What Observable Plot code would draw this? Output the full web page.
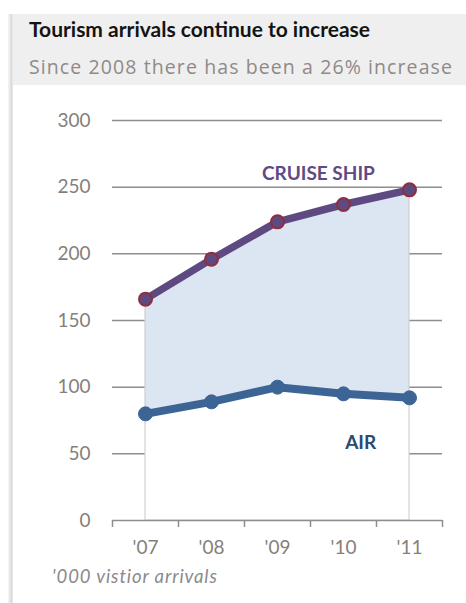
<!DOCTYPE html>
<html>
<head>
<meta charset="utf-8">
<script src="https://cdn.jsdelivr.net/npm/d3@7"></script>
<script src="https://cdn.jsdelivr.net/npm/@observablehq/plot@0.6"></script>
<style>
  html, body { margin: 0; padding: 0; background: #fff; }
  #frame { position: relative; width: 466px; height: 603px; overflow: hidden; font-family: Lato, "Open Sans", sans-serif; }
  #header { position: absolute; left: 8px; top: 14px; width: 458px; height: 71px; background: #efefef; }
  #edge { position: absolute; left: 8px; top: 14px; width: 5px; bottom: 0; background: linear-gradient(to right, #f6f6f6, #e2e2e2 55%, #d6d6d6 75%, #f3f3f3); }
  #title { position: absolute; left: 29px; top: 16px; font-weight: 700; font-size: 21px; line-height: 25px; color: #141414; white-space: nowrap; }
  #subtitle { position: absolute; left: 29px; top: 53px; font-family: "Open Sans", sans-serif; font-size: 19.5px; letter-spacing: 1.1px; line-height: 27px; color: #8f8a88; white-space: nowrap; }
  #chart { position: absolute; left: 0; top: 95px; }
  #caption { position: absolute; left: 52px; top: 565px; font-style: italic; font-size: 18.5px; letter-spacing: 0.9px; line-height: 22px; color: #8a8a8e; white-space: nowrap; }
</style>
</head>
<body>
<div id="frame">
  <div id="header"></div>
  <div id="edge"></div>
  <div id="title">Tourism arrivals continue to increase</div>
  <div id="subtitle">Since 2008 there has been a 26% increase</div>
  <div id="chart"></div>
  <div id="caption">'000 vistior arrivals</div>
</div>
<script>
const years = [2007, 2008, 2009, 2010, 2011];
const cruiseShip = [166, 196, 224, 237, 248];
const air = [80, 89, 100, 95, 92];
const yTicks = [0, 50, 100, 150, 200, 250, 300];
const seriesLabels = [
  {text: "CRUISE SHIP", year: 2009.62, value: 260, color: "#5e4a86"},
  {text: "AIR", year: 2010.26, value: 58, color: "#2c4a70"}
];

const data = years.map((year, i) => ({year, cruise: cruiseShip[i], air: air[i]}));
const bounds = [years[0] - 0.5, ...years.map(y => y + 0.5)];
const labelColor = "#857f7a";
const gridColor = "#8e8e8e";

const chart = Plot.plot({
  width: 466,
  height: 470,
  marginTop: 25,
  marginBottom: 45,
  marginLeft: 112,
  marginRight: 24,
  style: {fontFamily: "Lato, 'Open Sans', sans-serif", background: "transparent", overflow: "visible"},
  x: {type: "linear", domain: [bounds[0], bounds[bounds.length - 1]]},
  y: {domain: [0, 300]},
  marks: [
    Plot.gridY(yTicks.filter(d => d > 0), {stroke: gridColor, strokeOpacity: 1, strokeWidth: 1.5}),
    Plot.areaY(data, {x: "year", y1: 0, y2: "air", fill: "white", stroke: "#d2d2d2", strokeWidth: 1.2}),
    Plot.areaY(data, {x: "year", y1: "air", y2: "cruise", fill: "#dce6f2", stroke: "#cfcfcf", strokeWidth: 1.2}),
    Plot.ruleY([0], {stroke: gridColor, strokeWidth: 1.5}),
    Plot.axisX({ticks: bounds, tickSize: 7, tickFormat: () => "", stroke: gridColor, strokeWidth: 1.5, label: null}),
    Plot.axisX({ticks: years, tickSize: 0, tickPadding: 20, tickFormat: d => "'" + String(d).slice(2), fontSize: 19, fill: labelColor, label: null}),
    Plot.axisY({ticks: yTicks, tickSize: 0, tickPadding: 22, fontSize: 19, fill: labelColor, label: null}),
    Plot.line(data, {x: "year", y: "air", stroke: "#3c6494", strokeWidth: 8}),
    Plot.dot(data, {x: "year", y: "air", r: 7, fill: "#3c6494", stroke: "#3c6494", strokeWidth: 1}),
    Plot.line(data, {x: "year", y: "cruise", stroke: "#5e4a80", strokeWidth: 7.5}),
    Plot.dot(data, {x: "year", y: "cruise", r: 6.5, fill: "#5e4a80", stroke: "#8e2f3e", strokeWidth: 2}),
    Plot.text(seriesLabels, {x: "year", y: "value", text: "text", fill: "color", fontSize: 19, fontWeight: "bold"})
  ]
});
document.getElementById("chart").appendChild(chart);
</script>
</body>
</html>
